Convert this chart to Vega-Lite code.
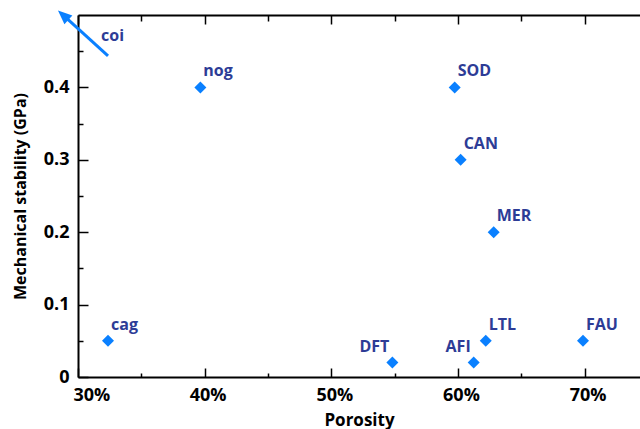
{
  "$schema": "https://vega.github.io/schema/vega-lite/v6.json",
  "width": 562,
  "height": 362,
  "autosize": {"type": "none"},
  "padding": {"left": 78, "top": 15, "right": 0, "bottom": 52},
  "background": "white",
  "config": {"view": {"stroke": null}, "font": "Open Sans"},
  "datasets": {
    "zeolites": [
      {"name": "cag", "porosity": 0.3237, "stability": 0.05},
      {"name": "nog", "porosity": 0.3966, "stability": 0.40},
      {"name": "DFT", "porosity": 0.5482, "stability": 0.02},
      {"name": "SOD", "porosity": 0.5974, "stability": 0.40},
      {"name": "CAN", "porosity": 0.6021, "stability": 0.30},
      {"name": "AFI", "porosity": 0.6124, "stability": 0.02},
      {"name": "LTL", "porosity": 0.6219, "stability": 0.05},
      {"name": "MER", "porosity": 0.6282, "stability": 0.20},
      {"name": "FAU", "porosity": 0.6987, "stability": 0.05}
    ],
    "offscale": [
      {"name": "coi", "porosity": 0.3237, "stability": 0.4436, "porosity_end": 0.2883, "stability_end": 0.4997}
    ]
  },
  "layer": [
    {
      "data": {"name": "zeolites"},
      "mark": {"type": "point", "shape": "diamond", "filled": true, "size": 144, "color": "#0a80ff", "opacity": 1},
      "encoding": {
        "x": {
          "field": "porosity", "type": "quantitative",
          "scale": {"domain": [0.30, 0.7437], "nice": false, "zero": false},
          "axis": {
            "orient": "bottom",
            "values": [0.30, 0.35, 0.40, 0.45, 0.50, 0.55, 0.60, 0.65, 0.70],
            "labelExpr": "round(datum.value*100) % 10 == 0 ? format(datum.value, '.0%') : ''",
            "tickSize": -9,
            "tickDash": {"condition": {"test": "round(datum.value*100) % 10 != 0", "value": [4, 30]}, "value": [30, 1]},
            "tickColor": "black", "tickWidth": 1.5,
            "domainColor": "black", "domainWidth": 2,
            "labelFont": "Open Sans", "labelFontSize": 18, "labelFontWeight": "bold", "labelColor": "black",
            "labelPadding": 18,
            "labelFlush": true,
            "labelOffset": {"condition": {"test": "datum.value < 0.31", "value": -5}, "value": 3},
            "grid": false,
            "title": "Porosity",
            "titleFont": "Open Sans", "titleFontSize": 17, "titleFontWeight": "bold", "titleColor": "black",
            "titlePadding": 8
          }
        },
        "y": {
          "field": "stability", "type": "quantitative",
          "scale": {"domain": [0, 0.5], "nice": false},
          "axis": {
            "orient": "left",
            "values": [0, 0.05, 0.1, 0.15, 0.2, 0.25, 0.3, 0.35, 0.4, 0.45],
            "labelExpr": "round(datum.value*100) % 10 == 0 ? (datum.value == 0 ? '0' : format(datum.value, '.1f')) : ''",
            "tickSize": -10,
            "tickDash": {"condition": {"test": "round(datum.value*100) % 10 != 0", "value": [5, 30]}, "value": [30, 1]},
            "tickColor": "black", "tickWidth": 1.5,
            "domainColor": "black", "domainWidth": 2,
            "labelFont": "Open Sans", "labelFontSize": 18, "labelFontWeight": "bold", "labelColor": "black",
            "labelPadding": 19,
            "grid": false,
            "title": "Mechanical stability (GPa)",
            "titleFont": "Open Sans", "titleFontSize": 16, "titleFontWeight": "bold", "titleColor": "black",
            "titlePadding": 15
          }
        }
      }
    },
    {
      "data": {"name": "zeolites"},
      "transform": [{"filter": "datum.name != 'DFT' && datum.name != 'AFI'"}],
      "mark": {"type": "text", "align": "left", "baseline": "alphabetic", "dx": 3, "dy": -11, "font": "Open Sans", "fontSize": 16, "fontWeight": "bold", "color": "#2d3c96"},
      "encoding": {
        "x": {"field": "porosity", "type": "quantitative", "axis": null},
        "y": {"field": "stability", "type": "quantitative", "axis": null},
        "text": {"field": "name"}
      }
    },
    {
      "data": {"name": "zeolites"},
      "transform": [{"filter": "datum.name == 'DFT' || datum.name == 'AFI'"}],
      "mark": {"type": "text", "align": "right", "baseline": "alphabetic", "dx": -3, "dy": -11, "font": "Open Sans", "fontSize": 16, "fontWeight": "bold", "color": "#2d3c96"},
      "encoding": {
        "x": {"field": "porosity", "type": "quantitative", "axis": null},
        "y": {"field": "stability", "type": "quantitative", "axis": null},
        "text": {"field": "name"}
      }
    },
    {
      "data": {"name": "offscale"},
      "mark": {"type": "rule", "color": "#0a80ff", "strokeWidth": 3},
      "encoding": {
        "x": {
          "field": "porosity", "type": "quantitative",
          "axis": {
            "orient": "top",
            "values": [0.30, 0.35, 0.40, 0.45, 0.50, 0.55, 0.60, 0.65, 0.70],
            "labels": false,
            "tickSize": -9,
            "tickDash": {"condition": {"test": "round(datum.value*100) % 10 != 0", "value": [6, 30]}, "value": [30, 1]},
            "tickColor": "black", "tickWidth": 1.5,
            "domainColor": "black", "domainWidth": 2,
            "grid": false,
            "title": null
          }
        },
        "y": {"field": "stability", "type": "quantitative", "axis": null},
        "x2": {"field": "porosity_end"},
        "y2": {"field": "stability_end"}
      }
    },
    {
      "data": {"name": "offscale"},
      "mark": {"type": "point", "shape": "M0,-1L0.85,1L-0.85,1Z", "filled": true, "size": 196, "angle": 312, "color": "#0a80ff", "opacity": 1},
      "encoding": {
        "x": {"field": "porosity_end", "type": "quantitative", "axis": null},
        "y": {"field": "stability_end", "type": "quantitative", "axis": null}
      }
    },
    {
      "data": {"name": "offscale"},
      "mark": {"type": "text", "align": "left", "baseline": "alphabetic", "dx": -7, "dy": -15, "font": "Open Sans", "fontSize": 16, "fontWeight": "bold", "color": "#2d3c96"},
      "encoding": {
        "x": {"field": "porosity", "type": "quantitative", "axis": null},
        "y": {"field": "stability", "type": "quantitative", "axis": null},
        "text": {"field": "name"}
      }
    }
  ],
  "resolve": {"axis": {"x": "independent", "y": "independent"}}
}
